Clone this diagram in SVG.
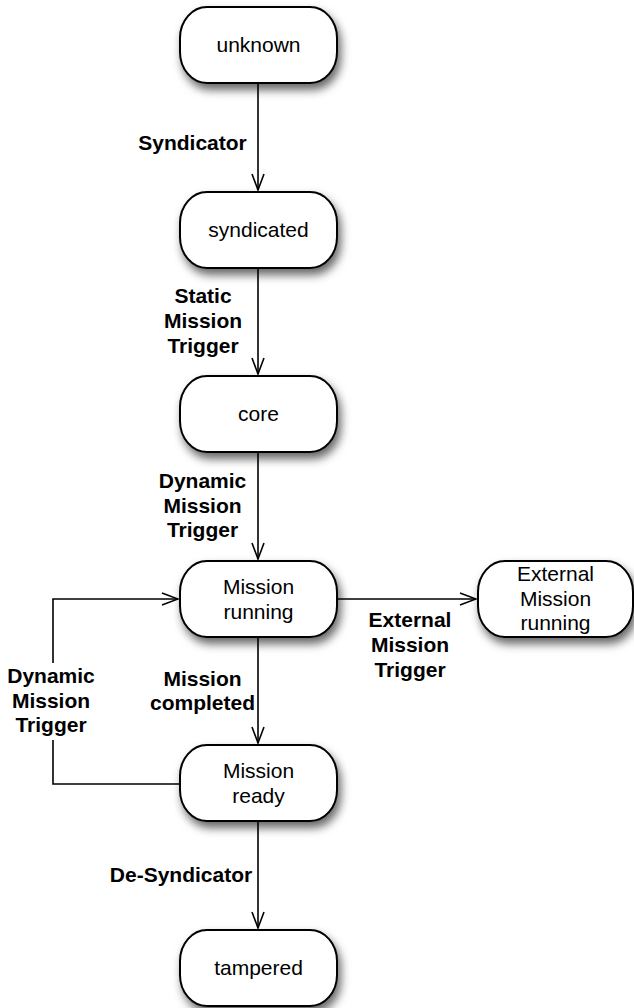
<svg xmlns="http://www.w3.org/2000/svg" width="634" height="1008" viewBox="0 0 634 1008">
  <style>
    .state rect { fill: #fff; stroke: #000; stroke-width: 2; }
    .state text { font-family: "Liberation Sans", Arial, sans-serif; font-size: 21px; fill: #000; text-anchor: middle; }
    .edge { fill: none; stroke: #000; stroke-width: 1.6; }
    .lbl { font-family: "Liberation Sans", Arial, sans-serif; font-size: 21px; font-weight: bold; fill: #000; text-anchor: middle; }
  </style>
  <defs>
    <filter id="shadow" x="-20%" y="-20%" width="150%" height="170%">
      <feDropShadow dx="3" dy="6" stdDeviation="5" flood-color="#000" flood-opacity="0.6"/>
    </filter>
    <marker id="open" markerUnits="userSpaceOnUse" markerWidth="20" markerHeight="16" viewBox="-18 -8 20 16" refX="0" refY="0" orient="auto">
      <path d="M-16,-6 L0,0 L-16,6" fill="none" stroke="#000" stroke-width="1.6"/>
    </marker>
  </defs>
  <rect width="634" height="1008" fill="#fff"/>

  <!-- transitions -->
  <g id="connectors">
    <path class="edge" d="M258,83 V190" marker-end="url(#open)"/>
    <path class="edge" d="M258,268 V374" marker-end="url(#open)"/>
    <path class="edge" d="M258,452 V559" marker-end="url(#open)"/>
    <path class="edge" d="M258,637 V743" marker-end="url(#open)"/>
    <path class="edge" d="M258,821 V928" marker-end="url(#open)"/>
    <path class="edge" d="M337,599 H476" marker-end="url(#open)"/>
    <path class="edge" d="M180,784 H53 V740"/>
    <path class="edge" d="M53,663 V599 H178" marker-end="url(#open)"/>

    <text class="lbl" x="192.5" y="150">Syndicator</text>
    <text class="lbl" x="203" y="303">Static</text>
    <text class="lbl" x="203" y="328">Mission</text>
    <text class="lbl" x="203" y="353">Trigger</text>
    <text class="lbl" x="202.5" y="488">Dynamic</text>
    <text class="lbl" x="202.5" y="513">Mission</text>
    <text class="lbl" x="202.5" y="537">Trigger</text>
    <text class="lbl" x="202.5" y="686">Mission</text>
    <text class="lbl" x="202.5" y="710">completed</text>
    <text class="lbl" x="181" y="882">De-Syndicator</text>
    <text class="lbl" x="410" y="627">External</text>
    <text class="lbl" x="410" y="652">Mission</text>
    <text class="lbl" x="410" y="677">Trigger</text>
    <text class="lbl" x="51" y="683">Dynamic</text>
    <text class="lbl" x="51" y="708">Mission</text>
    <text class="lbl" x="51" y="732">Trigger</text>
  </g>

  <!-- states -->
  <g id="unknown" class="state">
    <rect x="180" y="7" width="157" height="76" rx="27" ry="31" filter="url(#shadow)"/>
    <text x="258.5" y="52">unknown</text>
  </g>
  <g id="syndicated" class="state">
    <rect x="180" y="192" width="157" height="76" rx="27" ry="31" filter="url(#shadow)"/>
    <text x="258.5" y="237">syndicated</text>
  </g>
  <g id="core" class="state">
    <rect x="180" y="376" width="157" height="76" rx="27" ry="31" filter="url(#shadow)"/>
    <text x="258.5" y="421">core</text>
  </g>
  <g id="mission-running" class="state">
    <rect x="180" y="561" width="157" height="76" rx="27" ry="31" filter="url(#shadow)"/>
    <text x="258.5" y="594">Mission</text>
    <text x="258.5" y="619">running</text>
  </g>
  <g id="external-mission-running" class="state">
    <rect x="478" y="561" width="155" height="76" rx="27" ry="31" filter="url(#shadow)"/>
    <text x="555.5" y="581">External</text>
    <text x="555.5" y="606">Mission</text>
    <text x="555.5" y="630">running</text>
  </g>
  <g id="mission-ready" class="state">
    <rect x="180" y="745" width="157" height="76" rx="27" ry="31" filter="url(#shadow)"/>
    <text x="258.5" y="778">Mission</text>
    <text x="258.5" y="803">ready</text>
  </g>
  <g id="tampered" class="state">
    <rect x="180" y="930" width="157" height="76" rx="27" ry="31" filter="url(#shadow)"/>
    <text x="258.5" y="975">tampered</text>
  </g>
</svg>
